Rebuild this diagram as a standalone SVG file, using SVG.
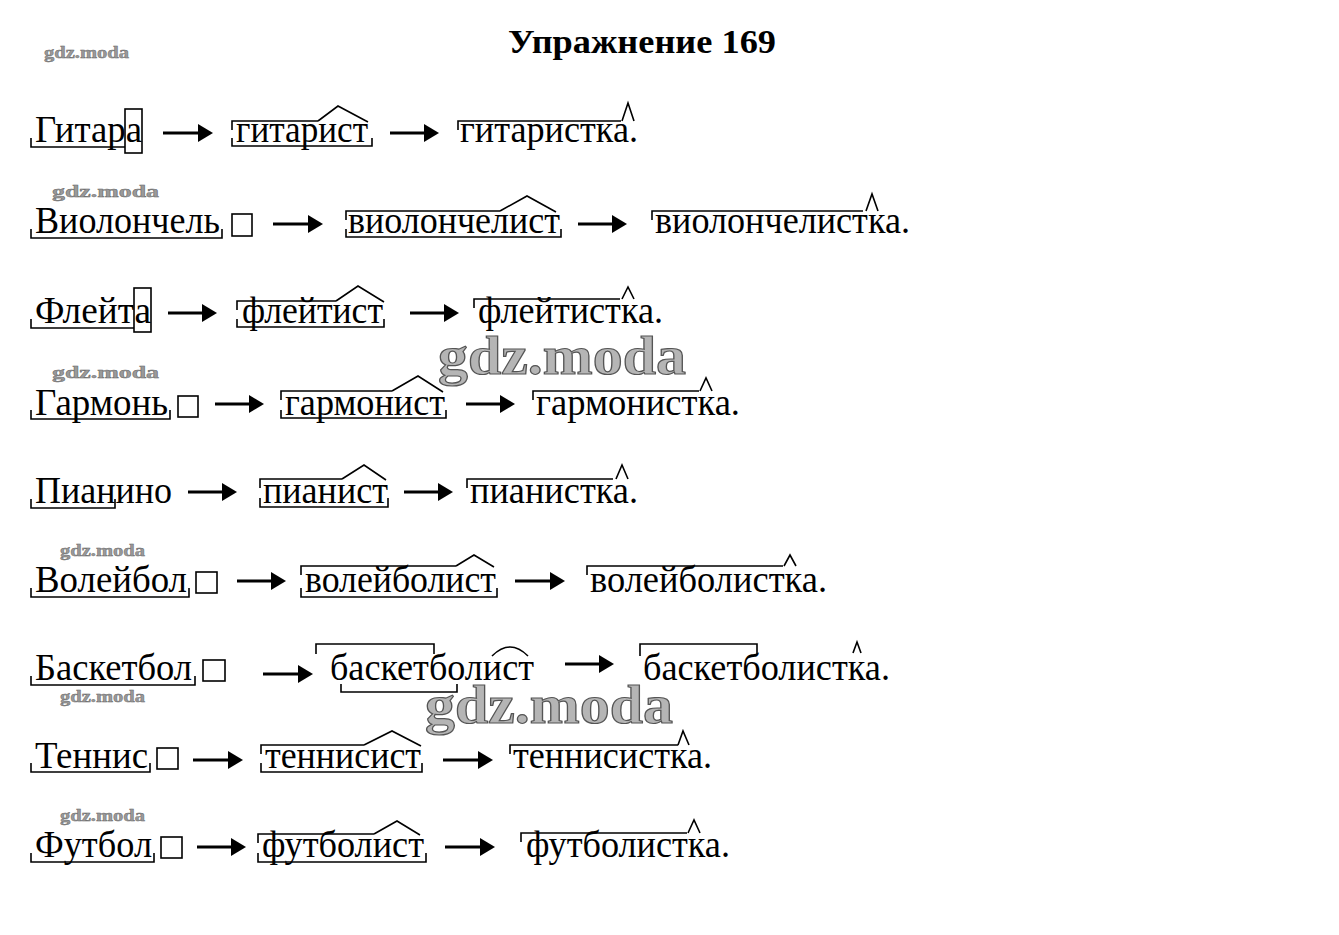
<svg xmlns="http://www.w3.org/2000/svg" width="1339" height="935" viewBox="0 0 1339 935">
<style>
.w{font-family:"Liberation Serif","Times New Roman",serif;font-size:37px;fill:#000}
.t{font-family:"Liberation Serif","Times New Roman",serif;font-size:34px;font-weight:bold;fill:#000}
.m{fill:none;stroke:#000;stroke-width:1.6}
.b{fill:#fff;stroke:#000;stroke-width:1.6}
.wm{font-family:"Liberation Serif","Times New Roman",serif;font-weight:bold;font-size:16px;fill:#9a9a9a;stroke:#666;stroke-width:0.4}
.wmb{font-family:"Liberation Serif","Times New Roman",serif;font-weight:bold;font-size:54px;fill:#b5b5b5;stroke:#555;stroke-width:1.2}
.a{stroke:#000;stroke-width:3;marker-end:url(#ah)}
</style>
<defs>
<marker id="ah" markerWidth="6" markerHeight="6" refX="1" refY="3" orient="auto" markerUnits="strokeWidth" viewBox="0 0 6 6">
<path d="M0,0 L5,3 L0,6 Z" fill="#000"/>
</marker>
</defs>
<rect width="1339" height="935" fill="#fff"/>
<g id="title"><text class="t" x="508" y="53" textLength="268" lengthAdjust="spacingAndGlyphs">Упражнение 169</text></g>
<g id="watermarks">
<text class="wm" x="44" y="58" textLength="85" lengthAdjust="spacingAndGlyphs">gdz.moda</text>
<text class="wm" x="52" y="197" textLength="107" lengthAdjust="spacingAndGlyphs">gdz.moda</text>
<text class="wm" x="52" y="378" textLength="107" lengthAdjust="spacingAndGlyphs">gdz.moda</text>
<text class="wm" x="60" y="556" textLength="85" lengthAdjust="spacingAndGlyphs">gdz.moda</text>
<text class="wm" x="60" y="702" textLength="85" lengthAdjust="spacingAndGlyphs">gdz.moda</text>
<text class="wm" x="60" y="821" textLength="85" lengthAdjust="spacingAndGlyphs">gdz.moda</text>
<text class="wmb" x="438" y="374" textLength="248" lengthAdjust="spacingAndGlyphs">gdz.moda</text>
<text class="wmb" x="425" y="723" textLength="248" lengthAdjust="spacingAndGlyphs">gdz.moda</text>
</g>
<g id="row1">
<text class="w" x="35" y="142" textLength="107" lengthAdjust="spacingAndGlyphs">Гитара</text>
<rect class="m" x="125" y="109" width="17" height="44"/>
<path class="m" d="M31,138 V147 H125"/>
<text class="w" x="236" y="142" textLength="132" lengthAdjust="spacingAndGlyphs">гитарист</text>
<path class="m" d="M232,130 V121 H318 M318,121 L338,106 L368,122"/>
<path class="m" d="M232,138 V146 H372 V138"/>
<text class="w" x="460" y="142" textLength="178" lengthAdjust="spacingAndGlyphs">гитаристка.</text>
<path class="m" d="M458,130 V121 H621 M622,121 L628,103 L634,121"/>
</g>
<g id="row2">
<text class="w" x="35" y="233" textLength="185" lengthAdjust="spacingAndGlyphs">Виолончель</text>
<path class="m" d="M31,229 V238 H222 V229"/>
<rect class="b" x="232" y="214" width="20" height="22"/>
<text class="w" x="348" y="233" textLength="212" lengthAdjust="spacingAndGlyphs">виолончелист</text>
<path class="m" d="M346,220 V211 H500 M500,211 L527,196 L556,212"/>
<path class="m" d="M346,229 V237 H561 V229"/>
<text class="w" x="655" y="233" textLength="255" lengthAdjust="spacingAndGlyphs">виолончелистка.</text>
<path class="m" d="M652,220 V211 H863 M866,211 L872,194 L878,211"/>
</g>
<g id="row3">
<text class="w" x="35" y="323" textLength="116" lengthAdjust="spacingAndGlyphs">Флейта</text>
<rect class="m" x="134" y="288" width="17" height="44"/>
<path class="m" d="M31,319 V328 H134"/>
<text class="w" x="242" y="323" textLength="141" lengthAdjust="spacingAndGlyphs">флейтист</text>
<path class="m" d="M237,310 V301 H336 M336,301 L358,286 L384,302"/>
<path class="m" d="M237,319 V327 H384 V319"/>
<text class="w" x="478" y="323" textLength="185" lengthAdjust="spacingAndGlyphs">флейтистка.</text>
<path class="m" d="M474,308 V299 H620 M622,299 L628,287 L634,299"/>
</g>
<g id="row4">
<text class="w" x="35" y="415" textLength="133" lengthAdjust="spacingAndGlyphs">Гармонь</text>
<path class="m" d="M31,410 V419 H170 V410"/>
<rect class="b" x="178" y="396" width="20" height="21"/>
<text class="w" x="285" y="415" textLength="160" lengthAdjust="spacingAndGlyphs">гармонист</text>
<path class="m" d="M281,400 V391 H392 M392,391 L418,376 L443,392"/>
<path class="m" d="M281,410 V418 H446 V410"/>
<text class="w" x="536" y="415" textLength="204" lengthAdjust="spacingAndGlyphs">гармонистка.</text>
<path class="m" d="M533,400 V391 H699 M700,391 L706,378 L712,391"/>
</g>
<g id="row5">
<text class="w" x="35" y="503" textLength="137" lengthAdjust="spacingAndGlyphs">Пианино</text>
<path class="m" d="M31,499 V508 H115 V499"/>
<text class="w" x="263" y="503" textLength="125" lengthAdjust="spacingAndGlyphs">пианист</text>
<path class="m" d="M260,488 V479 H342 M342,479 L364,465 L386,480"/>
<path class="m" d="M260,498 V507 H388 V498"/>
<text class="w" x="470" y="503" textLength="168" lengthAdjust="spacingAndGlyphs">пианистка.</text>
<path class="m" d="M467,488 V479 H613 M616,479 L622,465 L628,479"/>
</g>
<g id="row6">
<text class="w" x="35" y="592" textLength="152" lengthAdjust="spacingAndGlyphs">Волейбол</text>
<path class="m" d="M31,588 V597 H189 V588"/>
<rect class="b" x="196" y="572" width="21" height="21"/>
<text class="w" x="305" y="592" textLength="191" lengthAdjust="spacingAndGlyphs">волейболист</text>
<path class="m" d="M301,575 V566 H456 M456,566 L474,555 L494,567"/>
<path class="m" d="M301,588 V597 H497 V588"/>
<text class="w" x="590" y="592" textLength="237" lengthAdjust="spacingAndGlyphs">волейболистка.</text>
<path class="m" d="M587,575 V566 H783 M784,566 L790,555 L796,566"/>
</g>
<g id="row7">
<text class="w" x="35" y="680" textLength="157" lengthAdjust="spacingAndGlyphs">Баскетбол</text>
<path class="m" d="M31,676 V685 H195 V676"/>
<rect class="b" x="203" y="660" width="22" height="21"/>
<text class="w" x="330" y="680" textLength="204" lengthAdjust="spacingAndGlyphs">баскетболист</text>
<path class="m" d="M316,654 V644 H434 V654"/>
<path class="m" d="M341,684 V692 H457 V684"/>
<path class="m" d="M492,656 Q510,638 528,656"/>
<text class="w" x="643" y="680" textLength="247" lengthAdjust="spacingAndGlyphs">баскетболистка.</text>
<path class="m" d="M640,656 V644 H757 V654"/>
<path class="m" d="M853,653 L857,642 L861,653"/>
</g>
<g id="row8">
<text class="w" x="35" y="768" textLength="113" lengthAdjust="spacingAndGlyphs">Теннис</text>
<path class="m" d="M31,763 V772 H150 V763"/>
<rect class="b" x="157" y="748" width="21" height="21"/>
<text class="w" x="265" y="768" textLength="156" lengthAdjust="spacingAndGlyphs">теннисист</text>
<path class="m" d="M261,754 V745 H364 M364,745 L392,731 L421,746"/>
<path class="m" d="M261,763 V772 H422 V763"/>
<text class="w" x="513" y="768" textLength="199" lengthAdjust="spacingAndGlyphs">теннисистка.</text>
<path class="m" d="M510,754 V745 H678 M678,745 L683,731 L689,745"/>
</g>
<g id="row9">
<text class="w" x="35" y="857" textLength="117" lengthAdjust="spacingAndGlyphs">Футбол</text>
<path class="m" d="M31,853 V862 H154 V853"/>
<rect class="b" x="161" y="837" width="21" height="21"/>
<text class="w" x="262" y="857" textLength="162" lengthAdjust="spacingAndGlyphs">футболист</text>
<path class="m" d="M258,843 V834 H374 M374,834 L397,821 L420,835"/>
<path class="m" d="M258,853 V862 H426 V853"/>
<text class="w" x="526" y="857" textLength="204" lengthAdjust="spacingAndGlyphs">футболистка.</text>
<path class="m" d="M521,842 V833 H687 M688,833 L694,820 L700,833"/>
</g>
<g id="connectors">
<line class="a" x1="163" y1="133" x2="201" y2="133"/>
<line class="a" x1="390" y1="133" x2="427" y2="133"/>
<line class="a" x1="273" y1="224" x2="311" y2="224"/>
<line class="a" x1="578" y1="224" x2="615" y2="224"/>
<line class="a" x1="168" y1="313" x2="205" y2="313"/>
<line class="a" x1="410" y1="313" x2="447" y2="313"/>
<line class="a" x1="215" y1="404" x2="252" y2="404"/>
<line class="a" x1="466" y1="404" x2="503" y2="404"/>
<line class="a" x1="188" y1="492" x2="225" y2="492"/>
<line class="a" x1="404" y1="492" x2="441" y2="492"/>
<line class="a" x1="237" y1="581" x2="274" y2="581"/>
<line class="a" x1="515" y1="581" x2="553" y2="581"/>
<line class="a" x1="263" y1="674" x2="301" y2="674"/>
<line class="a" x1="565" y1="664" x2="602" y2="664"/>
<line class="a" x1="193" y1="760" x2="231" y2="760"/>
<line class="a" x1="443" y1="760" x2="481" y2="760"/>
<line class="a" x1="197" y1="847" x2="234" y2="847"/>
<line class="a" x1="445" y1="847" x2="483" y2="847"/>
</g>
</svg>
